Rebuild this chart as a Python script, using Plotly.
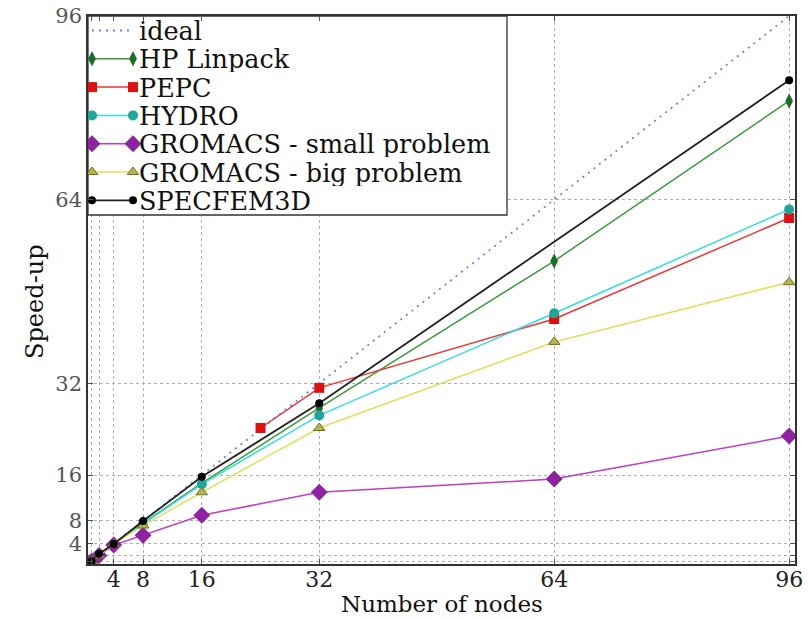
import plotly.graph_objects as go

# ---------------- data ----------------
ideal_x = [1, 96]
ideal_y = [1, 96]

hp_x = [1, 2, 4, 8, 16, 32, 64, 96]
hp_y = [1, 2, 4, 7.6, 14.6, 27.7, 53.3, 81.2]

pepc_x = [24, 32, 64, 96]
pepc_y = [24.2, 31.2, 43.2, 60.8]

hydro_x = [1, 2, 4, 8, 16, 32, 64, 96]
hydro_y = [1, 2, 4, 7.5, 14.4, 26.4, 44.2, 62.3]

gsmall_x = [1, 2, 4, 8, 16, 32, 64, 96]
gsmall_y = [1, 2, 3.8, 5.5, 9.0, 13.0, 15.3, 22.8]

gbig_x = [1, 2, 4, 8, 16, 32, 64, 96]
gbig_y = [1, 2, 4, 7.2, 13.0, 24.2, 39.2, 49.6]

spec_x = [1, 2, 4, 8, 16, 32, 96]
spec_y = [1, 2.3, 4, 8, 15.7, 28.5, 84.8]

tick_vals = [1, 2, 4, 8, 16, 32, 64, 96]
tick_text = ["", "", "4", "8", "16", "32", "64", "96"]

series_names = ["ideal", "HP Linpack", "PEPC", "HYDRO",
                "GROMACS - small problem", "GROMACS - big problem", "SPECFEM3D"]

# ---------------- styles ----------------
FONT = "DejaVu Serif"
W, H = 808, 620
ML, MR, MT, MB = 88, 13, 16, 56
PW, PH = W - ML - MR, H - MT - MB

styles = [
    dict(mode="lines", line=dict(color="#7b7bf0", width=1.8, dash="2px,5px"), marker=None),
    dict(mode="lines+markers", line=dict(color="#3a9a3a", width=1.5),
         marker=dict(symbol="diamond-tall", size=11, color="#1f6b2a")),
    dict(mode="lines+markers", line=dict(color="#ee3333", width=1.5),
         marker=dict(symbol="square", size=10, color="#dd1111")),
    dict(mode="lines+markers", line=dict(color="#33dddd", width=1.5),
         marker=dict(symbol="circle", size=10, color="#1fa59a")),
    dict(mode="lines+markers", line=dict(color="#c03cc0", width=1.5),
         marker=dict(symbol="diamond", size=13, color="#8e22a0")),
    dict(mode="lines+markers", line=dict(color="#e0e060", width=1.5),
         marker=dict(symbol="triangle-up", size=10, color="#b4b44a",
                     line=dict(color="#707020", width=1))),
    dict(mode="lines+markers", line=dict(color="#222222", width=1.8),
         marker=dict(symbol="circle", size=8, color="#000000")),
]

xs = [ideal_x, hp_x, pepc_x, hydro_x, gsmall_x, gbig_x, spec_x]
ys = [ideal_y, hp_y, pepc_y, hydro_y, gsmall_y, gbig_y, spec_y]

fig = go.Figure()
for name, x, y, st in zip(series_names, xs, ys, styles):
    kw = dict(x=x, y=y, mode=st["mode"], name=name, line=st["line"], showlegend=False)
    if st["marker"] is not None:
        kw["marker"] = st["marker"]
    fig.add_trace(go.Scatter(**kw))

# ---------------- manual legend (pixel units in plot area) ----------------
LEG_W, LEG_H = 419, 199
ROW0, ROW_STEP = 14.5, 28.3
KEY_X0, KEY_X1, TXT_X = 4, 45, 50

fig.add_trace(go.Scatter(
    x=[0, LEG_W, LEG_W, 0, 0], y=[0, 0, LEG_H, LEG_H, 0],
    xaxis="x2", yaxis="y2", mode="lines", fill="toself", fillcolor="white",
    line=dict(color="#333333", width=1.3), showlegend=False, hoverinfo="skip"))

for i, (name, st) in enumerate(zip(series_names, styles)):
    ry = ROW0 + i * ROW_STEP
    kw = dict(x=[KEY_X0, KEY_X1], y=[ry, ry], xaxis="x2", yaxis="y2",
              mode=st["mode"], line=st["line"], showlegend=False, hoverinfo="skip")
    if st["marker"] is not None:
        kw["marker"] = st["marker"]
    fig.add_trace(go.Scatter(**kw))
    fig.add_annotation(x=TXT_X, y=ry, xref="x2", yref="y2", text=name,
                       showarrow=False, xanchor="left", yanchor="middle",
                       height=27, borderpad=0, valign="middle",
                       font=dict(family=FONT, size=25.5, color="#111111"))

# ---------------- axes ----------------
axis_common = dict(
    showline=True, linecolor="#333333", linewidth=1.5, mirror="ticks",
    ticks="inside", ticklen=5, tickcolor="#555555",
    showgrid=True, gridcolor="#b0b0b0", griddash="dot", gridwidth=1,
    zeroline=False, automargin=False,
    tickvals=tick_vals, ticktext=tick_text,
)

fig.update_layout(
    width=W, height=H,
    margin=dict(l=ML, r=MR, t=MT, b=MB, autoexpand=False),
    paper_bgcolor="white", plot_bgcolor="white",
    font=dict(family=FONT, color="#111111"),
    showlegend=False,
    xaxis2=dict(overlaying="x", anchor="y2", range=[0, PW], visible=False,
                fixedrange=True, automargin=False),
    yaxis2=dict(overlaying="y", anchor="x2", range=[PH, 0], visible=False,
                fixedrange=True, automargin=False),
)
fig.layout.xaxis.update(range=[0.5, 96.8],
                        tickfont=dict(family=FONT, size=22, color="#222222"),
                        ticklabelstandoff=-5,
                        **axis_common)
fig.layout.yaxis.update(range=[0.5, 96],
                        tickfont=dict(family=FONT, size=21, color="#555555"),
                        **axis_common)

fig.add_annotation(x=0.5, y=0, xref="paper", yref="paper", yshift=-54,
                   text="Number of nodes", showarrow=False, borderpad=0,
                   xanchor="center", yanchor="bottom",
                   font=dict(family=FONT, size=23, color="#111111"))
fig.add_annotation(x=-0.075, y=0.48, xref="paper", yref="paper", text="Speed-up",
                   textangle=-90, showarrow=False, xanchor="center", yanchor="middle",
                   font=dict(family=FONT, size=24, color="#111111"))

fig.write_html("out.html")
